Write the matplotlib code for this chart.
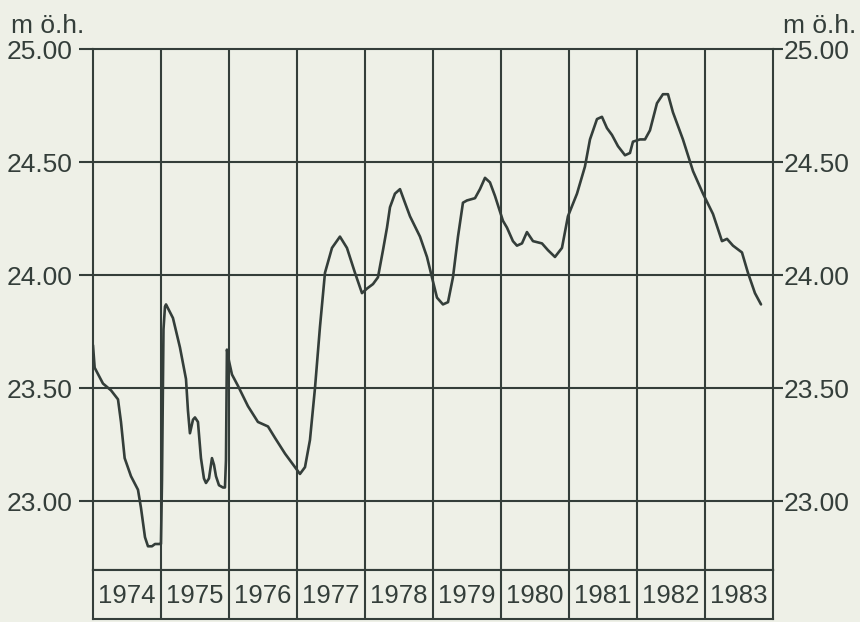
import matplotlib
matplotlib.use("Agg")
import matplotlib.pyplot as plt
from matplotlib import font_manager

# ---------------- data ----------------
years = [1974, 1975, 1976, 1977, 1978, 1979, 1980, 1981, 1982, 1983]
y_ticks = [23.00, 23.50, 24.00, 24.50, 25.00]
y_tick_labels = ["23.00", "23.50", "24.00", "24.50", "25.00"]
unit_label = "m ö.h."

# time as decimal years, water level in m above sea level
t = [1974.00, 1974.025, 1974.147, 1974.265, 1974.368, 1974.412, 1974.466, 1974.559,
     1974.662, 1974.706, 1974.765, 1974.809, 1974.868, 1974.912, 1974.985,
     1975.00, 1975.015, 1975.037, 1975.059, 1975.074, 1975.176, 1975.279, 1975.368,
     1975.397, 1975.426, 1975.471, 1975.50, 1975.544, 1975.588, 1975.632, 1975.662,
     1975.706, 1975.75, 1975.78, 1975.809, 1975.853, 1975.912, 1975.941, 1975.956,
     1975.97, 1976.00, 1976.044, 1976.132, 1976.279, 1976.426, 1976.574, 1976.676,
     1976.824, 1976.971, 1977.044, 1977.118, 1977.191, 1977.265, 1977.338, 1977.412,
     1977.515, 1977.632, 1977.735, 1977.853, 1977.956, 1978.029, 1978.118, 1978.191,
     1978.265, 1978.324, 1978.368, 1978.441, 1978.515, 1978.588, 1978.662, 1978.809,
     1978.912, 1978.985, 1979.059, 1979.147, 1979.221, 1979.294, 1979.368, 1979.441,
     1979.50, 1979.618, 1979.691, 1979.765, 1979.838, 1979.912, 1980.029, 1980.088,
     1980.176, 1980.235, 1980.309, 1980.382, 1980.471, 1980.603, 1980.691, 1980.794,
     1980.897, 1980.985, 1981.118, 1981.235, 1981.309, 1981.412, 1981.485, 1981.559,
     1981.632, 1981.721, 1981.824, 1981.897, 1981.941, 1982.044, 1982.118, 1982.191,
     1982.294, 1982.382, 1982.456, 1982.529, 1982.676, 1982.824, 1982.971, 1983.118,
     1983.25, 1983.324, 1983.412, 1983.544, 1983.632, 1983.735, 1983.824]
level = [23.69, 23.59, 23.52, 23.49, 23.45, 23.35, 23.19, 23.11,
         23.05, 22.97, 22.84, 22.80, 22.80, 22.81, 22.81,
         22.81, 23.09, 23.76, 23.86, 23.87, 23.81, 23.68, 23.54,
         23.40, 23.30, 23.36, 23.37, 23.35, 23.19, 23.10, 23.08,
         23.10, 23.19, 23.16, 23.11, 23.07, 23.06, 23.06, 23.18,
         23.67, 23.62, 23.56, 23.51, 23.42, 23.35, 23.33, 23.28,
         23.21, 23.15, 23.12, 23.15, 23.27, 23.50, 23.77, 24.01,
         24.12, 24.17, 24.12, 24.01, 23.92, 23.94, 23.96, 23.99,
         24.11, 24.21, 24.30, 24.36, 24.38, 24.32, 24.26, 24.17,
         24.08, 23.99, 23.90, 23.87, 23.88, 23.99, 24.17, 24.32,
         24.33, 24.34, 24.38, 24.43, 24.41, 24.35, 24.24, 24.21,
         24.15, 24.13, 24.14, 24.19, 24.15, 24.14, 24.11, 24.08,
         24.12, 24.26, 24.36, 24.48, 24.60, 24.69, 24.70, 24.65,
         24.62, 24.57, 24.53, 24.54, 24.59, 24.60, 24.60, 24.64,
         24.76, 24.80, 24.80, 24.72, 24.60, 24.46, 24.36, 24.27,
         24.15, 24.16, 24.13, 24.10, 24.01, 23.92, 23.87]

# ---------------- style ----------------
avail = {f.name for f in font_manager.fontManager.ttflist}
fam = "Liberation Sans Narrow" if "Liberation Sans Narrow" in avail else "Liberation Sans"
plt.rcParams["font.family"] = [fam, "DejaVu Sans"]

bg = "#eef0e7"
ink = "#343e3a"
grid_lw = 1.5

fig = plt.figure(figsize=(8.6, 6.22), dpi=100, facecolor=bg)

# main axes
ax = fig.add_axes([0.1081, 0.0836, 0.7907, 0.8376])
ax.set_facecolor(bg)
ax.set_xlim(years[0], years[-1] + 1)
ax.set_ylim(22.695, 25.0)

for yr in years[1:]:
    ax.axvline(yr, color=ink, lw=grid_lw, zorder=1)
for yv in y_ticks[:-1]:
    ax.axhline(yv, color=ink, lw=grid_lw, zorder=1)

for s in ax.spines.values():
    s.set_color(ink)
    s.set_linewidth(grid_lw)

ax.plot(t, level, color=ink, lw=1.9, solid_joinstyle="round",
        solid_capstyle="round", zorder=3)

ax.set_xticks([])
ax.set_yticks(y_ticks)
ax.set_yticklabels(y_tick_labels)
ax.tick_params(axis="y", left=True, right=False, labelleft=True, labelright=False,
               direction="out", color=ink, width=grid_lw, labelsize=19,
               labelcolor=ink, length=10, pad=5)

# right-hand scale
axr = ax.twinx()
axr.set_ylim(ax.get_ylim())
axr.set_yticks(y_ticks)
axr.set_yticklabels(y_tick_labels)
axr.tick_params(axis="y", right=True, labelright=True, direction="out",
                color=ink, width=grid_lw, labelsize=19, labelcolor=ink,
                length=7, pad=0.5)
for s in axr.spines.values():
    s.set_visible(False)

# units
fig.text(0.013, 0.939, unit_label, fontsize=19, color=ink, ha="left", va="bottom")
fig.text(0.911, 0.939, unit_label, fontsize=19, color=ink, ha="left", va="bottom")

# year row
axy = fig.add_axes([0.1081, 0.0048, 0.7907, 0.0788])
axy.set_facecolor(bg)
axy.set_xlim(years[0], years[-1] + 1)
axy.set_ylim(0, 1)
for yr in years[1:]:
    axy.axvline(yr, color=ink, lw=grid_lw)
for s in axy.spines.values():
    s.set_color(ink)
    s.set_linewidth(grid_lw)
axy.set_xticks([])
axy.set_yticks([])
for yr in years:
    axy.text(yr + 0.5, 0.47, str(yr), ha="center", va="center",
             fontsize=18.5, color=ink)

fig.savefig("out.png", dpi=100, facecolor=bg)
